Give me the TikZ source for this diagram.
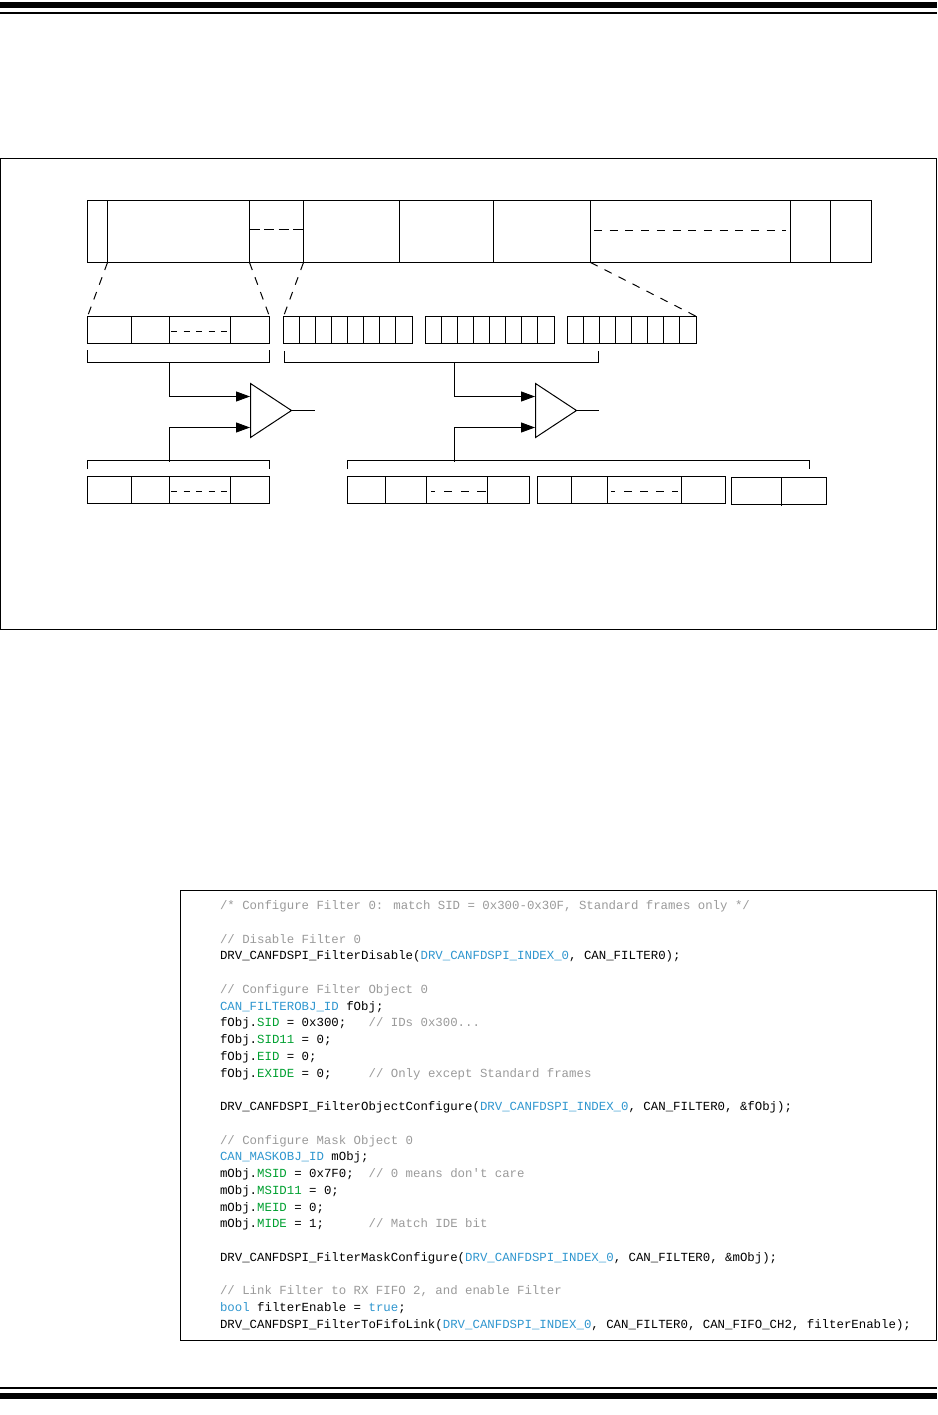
\documentclass[tikz,border=0pt]{standalone}
\usepackage{fontspec}
\usetikzlibrary{arrows.meta,calc}
\newfontfamily\codefont{Liberation Mono}
\definecolor{cgray}{HTML}{9A9A9A}
\definecolor{cblue}{HTML}{2F96CF}
\definecolor{cgreen}{HTML}{00A030}
\newcommand{\cm}[1]{\textcolor{cgray}{#1}}
\newcommand{\bl}[1]{\textcolor{cblue}{#1}}
\newcommand{\gr}[1]{\textcolor{cgreen}{#1}}
\tikzset{
  x=1pt,y=-1pt,
  line/.style={draw=black,line width=1pt},
  frame/.style={line,fill=none,inner sep=0pt,outer sep=0pt,rectangle},
  dsh/.style={line,dash pattern=on 8pt off 7.7pt},
  dshs/.style={line,dash pattern=on 6pt off 6.5pt},
  arr/.style={line,-{Triangle[length=14pt,width=10pt]}},
  code/.style={anchor=base west,inner sep=0pt,outer sep=0pt,font=\codefont\fontsize{12.38pt}{12.38pt}\selectfont}
}
% box with corners (x0,y0)-(x1,y1)
\newcommand{\bx}[5]{\node[frame,minimum width=#4pt-#2pt,minimum height=#5pt-#3pt,anchor=north west] (#1) at (#2,#3) {};}
% code line number #1: baseline computed from the line index
\newcommand{\cl}[2]{\pgfmathsetmacro{\yy}{909.5+16.76*#1}\node[code] (line#1) at (220,\yy) {#2};}
\begin{document}
\begin{tikzpicture}
\useasboundingbox (0,0) rectangle (937,1415);
% page rules
\fill[black] (0,2) rectangle (937,8);
\fill[black] (0,12) rectangle (937,14);
\fill[black] (0,1387) rectangle (937,1389);
\fill[black] (0,1393) rectangle (937,1399);
% outer frame
\bx{outer}{0.5}{158.5}{936.2}{629.2}
% top frame
\bx{frm}{87.5}{200.5}{871.5}{262.5}
\foreach \i/\xx in {a/107.5,b/249.5,c/303.5,d/399.5,e/493.5,f/590.5,g/790.5,h/830.5}{
  \coordinate (t\i) at (\xx,200.5);
  \coordinate (u\i) at (\xx,262.5);
  \draw[line] (t\i) -- (u\i);
}
\coordinate (dA1) at (249.5,229.2); \coordinate (dA2) at (306,229.2);
\draw[line,dash pattern=on 10pt off 4.5pt] (dA1) -- (dA2);
\coordinate (dB1) at (594,230.5); \coordinate (dB2) at (786,230.5);
\draw[dsh] (dB1) -- (dB2);
% second row
\bx{idL}{87.5}{316.5}{269.5}{343.5}
\foreach \xx in {131.5,169.5,230.5}{\draw[line] (\xx,316.5) -- (\xx,343.5);}
\coordinate (dC1) at (171,331.5); \coordinate (dC2) at (229.5,331.5);
\draw[dshs] (dC1) -- (dC2);
\bx{byA}{283.5}{316.5}{412.5}{343.5}
\bx{byB}{425.5}{316.5}{554.5}{343.5}
\bx{byC}{567.5}{316.5}{696.5}{343.5}
\foreach \s in {283.5,425.5,567.5}{
  \foreach \k in {1,...,7}{
    \draw[line] ({\s+16*\k},316.5) -- ({\s+16*\k},343.5);
  }
}
% expansion lines
\draw[dsh] (ua) -- (idL.north west);
\draw[dsh] (ub) -- (idL.north east);
\draw[dsh] (uc) -- (byA.north west);
\draw[dsh] (uf) -- (byC.north east);
% brackets, upper
\coordinate (b1a) at (87.5,350); \coordinate (b1b) at (87.5,362.5);
\coordinate (b1c) at (269.5,362.5); \coordinate (b1d) at (269.5,350);
\draw[line] (b1a) -- (b1b) -- (b1c) -- (b1d);
\coordinate (b2a) at (284.5,351); \coordinate (b2b) at (284.5,362.5);
\coordinate (b2c) at (598.5,362.5); \coordinate (b2d) at (598.5,351);
\draw[line] (b2a) -- (b2b) -- (b2c) -- (b2d);
% brackets, lower
\coordinate (b3a) at (87.5,469); \coordinate (b3b) at (87.5,460.5);
\coordinate (b3c) at (269.5,460.5); \coordinate (b3d) at (269.5,469);
\draw[line] (b3a) -- (b3b) -- (b3c) -- (b3d);
\coordinate (b4a) at (347.5,469); \coordinate (b4b) at (347.5,460.5);
\coordinate (b4c) at (809.5,460.5); \coordinate (b4d) at (809.5,469);
\draw[line] (b4a) -- (b4b) -- (b4c) -- (b4d);
% comparators
\coordinate (c1t) at (250.5,383.5); \coordinate (c1b) at (250.5,437.5); \coordinate (c1p) at (291.5,410.5);
\coordinate (c2t) at (535.5,383.5); \coordinate (c2b) at (535.5,437.5); \coordinate (c2p) at (576.5,410.5);
\draw[line,line join=miter] (c1t) -- (c1p) -- (c1b) -- cycle;
\draw[line,line join=miter] (c2t) -- (c2p) -- (c2b) -- cycle;
\coordinate (o1) at (315,410.5); \coordinate (o2) at (599,410.5);
\draw[line] (c1p) -- (o1);
\draw[line] (c2p) -- (o2);
% inputs
\coordinate (s1) at (169.5,362.5); \coordinate (i1) at (250,396.5);
\coordinate (s2) at (169.5,461.5); \coordinate (i2) at (250,427.5);
\coordinate (s3) at (454.5,362.5); \coordinate (i3) at (535,396.5);
\coordinate (s4) at (454.5,461.5); \coordinate (i4) at (535,427.5);
\draw[arr] (s1) |- (i1);
\draw[arr] (s2) |- (i2);
\draw[arr] (s3) |- (i3);
\draw[arr] (s4) |- (i4);
% bottom row
\bx{maL}{87.5}{476.5}{269.5}{503.5}
\foreach \xx in {131.5,169.5,230.5}{\draw[line] (\xx,476.5) -- (\xx,503.5);}
\coordinate (dD1) at (171,491.5); \coordinate (dD2) at (229.5,491.5);
\draw[dshs] (dD1) -- (dD2);
\bx{maA}{347.5}{476.5}{529.5}{503.5}
\foreach \xx in {385.5,426.5,487.5}{\draw[line] (\xx,476.5) -- (\xx,503.5);}
\coordinate (dE1) at (431,491.5); \coordinate (dE2) at (486,491.5);
\draw[line,dash pattern=on 4pt off 9pt on 8pt off 9pt on 8pt off 8pt on 9pt] (dE1) -- (dE2);
\bx{maB}{537.5}{476.5}{725.5}{503.5}
\foreach \xx in {571.5,607.5,681.5}{\draw[line] (\xx,476.5) -- (\xx,503.5);}
\coordinate (dF1) at (611,491.5); \coordinate (dF2) at (677.5,491.5);
\draw[line,dash pattern=on 3.5pt off 9.5pt on 8pt off 8pt on 8pt off 8pt on 8pt off 8pt on 6pt] (dF1) -- (dF2);
\bx{maC}{731.5}{477.5}{826.5}{504.5}
\coordinate (dG1) at (781.5,477.5); \coordinate (dG2) at (781.5,505.5);
\draw[line] (dG1) -- (dG2);
% code box
\bx{codebox}{180.5}{890.5}{936.2}{1340.5}
\cl{0}{\cm{/* Configure Filter 0: match SID = 0x300-0x30F, Standard frames only */}}
\cl{2}{\cm{// Disable Filter 0}}
\cl{3}{DRV\_CANFDSPI\_FilterDisable(\bl{DRV\_CANFDSPI\_INDEX\_0}, CAN\_FILTER0);}
\cl{5}{\cm{// Configure Filter Object 0}}
\cl{6}{\bl{CAN\_FILTEROBJ\_ID} fObj;}
\cl{7}{fObj.\gr{SID} = 0x300;\ \ \ \cm{// IDs 0x300...}}
\cl{8}{fObj.\gr{SID11} = 0;}
\cl{9}{fObj.\gr{EID} = 0;}
\cl{10}{fObj.\gr{EXIDE} = 0;\ \ \ \ \ \cm{// Only except Standard frames}}
\cl{12}{DRV\_CANFDSPI\_FilterObjectConfigure(\bl{DRV\_CANFDSPI\_INDEX\_0}, CAN\_FILTER0, \&fObj);}
\cl{14}{\cm{// Configure Mask Object 0}}
\cl{15}{\bl{CAN\_MASKOBJ\_ID} mObj;}
\cl{16}{mObj.\gr{MSID} = 0x7F0;\ \ \cm{// 0 means don't care}}
\cl{17}{mObj.\gr{MSID11} = 0;}
\cl{18}{mObj.\gr{MEID} = 0;}
\cl{19}{mObj.\gr{MIDE} = 1;\ \ \ \ \ \ \cm{// Match IDE bit}}
\cl{21}{DRV\_CANFDSPI\_FilterMaskConfigure(\bl{DRV\_CANFDSPI\_INDEX\_0}, CAN\_FILTER0, \&mObj);}
\cl{23}{\cm{// Link Filter to RX FIFO 2, and enable Filter}}
\cl{24}{\bl{bool} filterEnable = \bl{true};}
\cl{25}{DRV\_CANFDSPI\_FilterToFifoLink(\bl{DRV\_CANFDSPI\_INDEX\_0}, CAN\_FILTER0, CAN\_FIFO\_CH2, filterEnable);}
\end{tikzpicture}
\end{document}
